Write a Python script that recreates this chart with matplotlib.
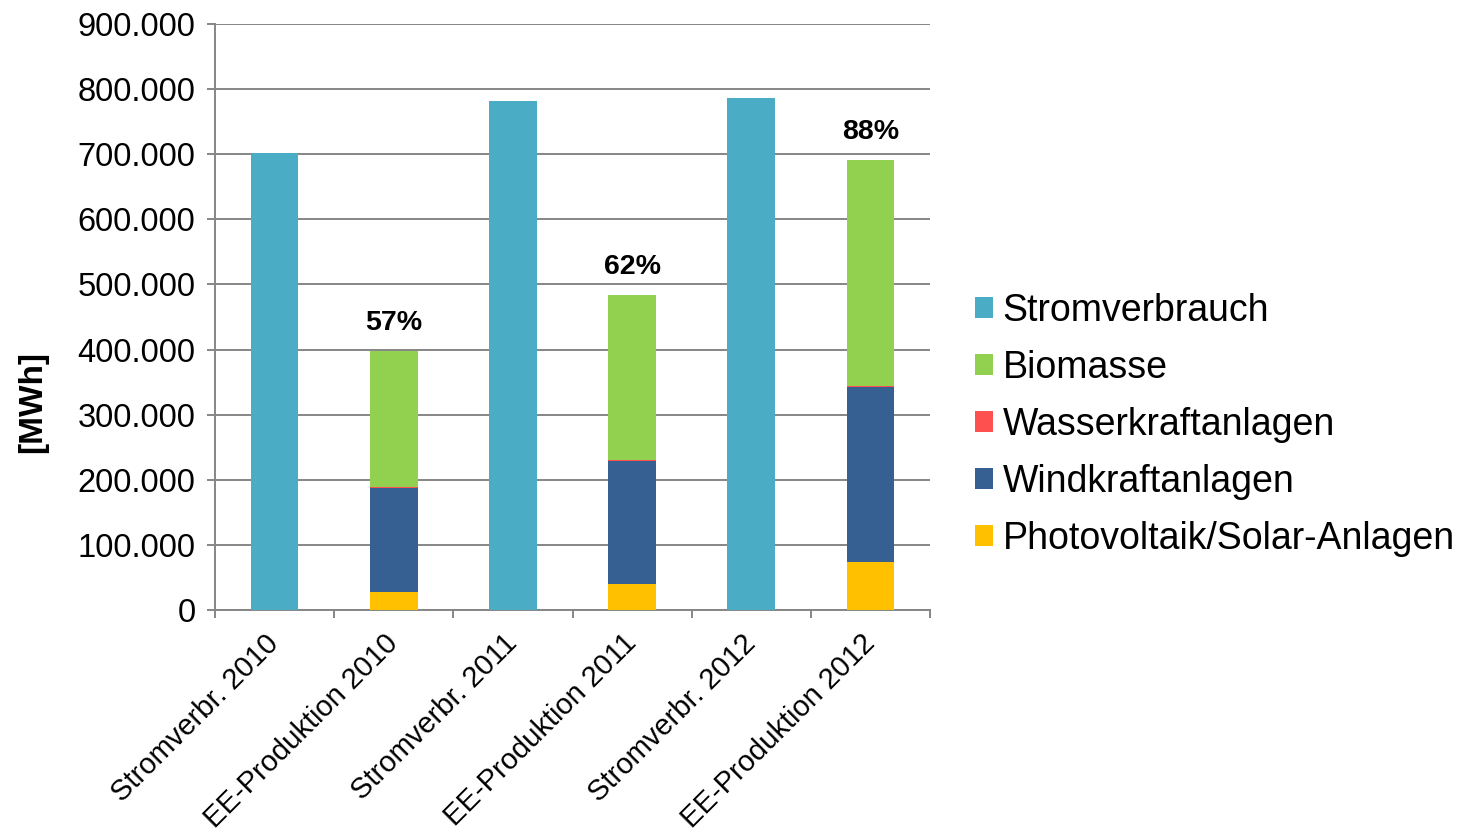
import matplotlib
matplotlib.use("Agg")
import matplotlib.pyplot as plt
import matplotlib.transforms as mtransforms
from matplotlib.ticker import FuncFormatter, FixedLocator
from matplotlib.patches import Patch

plt.rcParams['font.family'] = ['Liberation Sans', 'DejaVu Sans']

categories = ["Stromverbr. 2010", "EE-Produktion 2010", "Stromverbr. 2011",
              "EE-Produktion 2011", "Stromverbr. 2012", "EE-Produktion 2012"]
stromverbrauch = [702000, 0, 781000, 0, 786000, 0]
photovoltaik = [0, 27200, 0, 40000, 0, 73000]
windkraft = [0, 160500, 0, 189000, 0, 270000]
wasserkraft = [0, 1200, 0, 1200, 0, 1000]
biomasse = [0, 208500, 0, 253900, 0, 346800]
percent_labels = ["", "57%", "", "62%", "", "88%"]

series_names = ["Stromverbrauch", "Biomasse", "Wasserkraftanlagen",
                "Windkraftanlagen", "Photovoltaik/Solar-Anlagen"]
colors = {"Stromverbrauch": "#4BACC6", "Biomasse": "#92D050",
          "Wasserkraftanlagen": "#FF5050", "Windkraftanlagen": "#376092",
          "Photovoltaik/Solar-Anlagen": "#FFC000"}

fig = plt.figure(figsize=(14.59, 8.34), dpi=100)
ax = fig.add_axes([215/1459, 1-610/834, 715/1459, 586/834])

x = list(range(len(categories)))
w = 0.40
grid_c = "#868686"

ax.set_axisbelow(True)
ax.yaxis.grid(True, color=grid_c, linewidth=1.4)

ax.bar(x, stromverbrauch, w, color=colors["Stromverbrauch"], zorder=3)
bottom = [0]*6
for name, vals in [("Photovoltaik/Solar-Anlagen", photovoltaik),
                   ("Windkraftanlagen", windkraft),
                   ("Wasserkraftanlagen", wasserkraft),
                   ("Biomasse", biomasse)]:
    ax.bar(x, vals, w, bottom=bottom, color=colors[name], zorder=3)
    bottom = [b + v for b, v in zip(bottom, vals)]

for i, lab in enumerate(percent_labels):
    if lab:
        ax.annotate(lab, (x[i], bottom[i]), xytext=(0, 11), textcoords="offset points",
                    ha="center", va="bottom", fontsize=20.5, fontweight="bold")

ax.set_xlim(-0.5, 5.5)
ax.set_ylim(0, 900000)
ax.yaxis.set_major_locator(FixedLocator(range(0, 900001, 100000)))
ax.yaxis.set_major_formatter(FuncFormatter(lambda v, p: f"{int(v):,}".replace(",", ".")))
ax.set_xticks(x)
ax.set_xticklabels([""] * len(categories))
lbl_trans = ax.get_xaxis_transform() + mtransforms.ScaledTranslation(
    10/100, -19/100, fig.dpi_scale_trans)
for xi, cat in zip(x, categories):
    ax.text(xi, 0, cat, transform=lbl_trans, rotation=45, ha="right", va="top",
            fontsize=21, clip_on=False)
ax.set_xticks([i - 0.5 for i in range(7)], minor=True)
ax.tick_params(axis="x", which="major", length=0)
ax.tick_params(axis="x", which="minor", length=6, width=1.4, color=grid_c, direction="out")
ax.tick_params(axis="y", length=6, width=1.4, color=grid_c, labelsize=23.5, pad=8)

for s in ["top", "right"]:
    ax.spines[s].set_visible(False)
for s in ["left", "bottom"]:
    ax.spines[s].set_color(grid_c)
    ax.spines[s].set_linewidth(1.4)

ax.set_ylabel("[MWh]", fontsize=24, fontweight="bold")
ax.yaxis.set_label_coords(-0.234, 0.355)

handles = [Patch(facecolor=colors[n], label=n) for n in series_names]
fig.legend(handles=handles, loc="center left", bbox_to_anchor=(960/1459, 1-425/834),
           frameon=False, fontsize=27, handlelength=0.48, handleheight=0.48,
           handletextpad=0.25, labelspacing=0.56, borderaxespad=0)

fig.savefig("out.png", dpi=100)
